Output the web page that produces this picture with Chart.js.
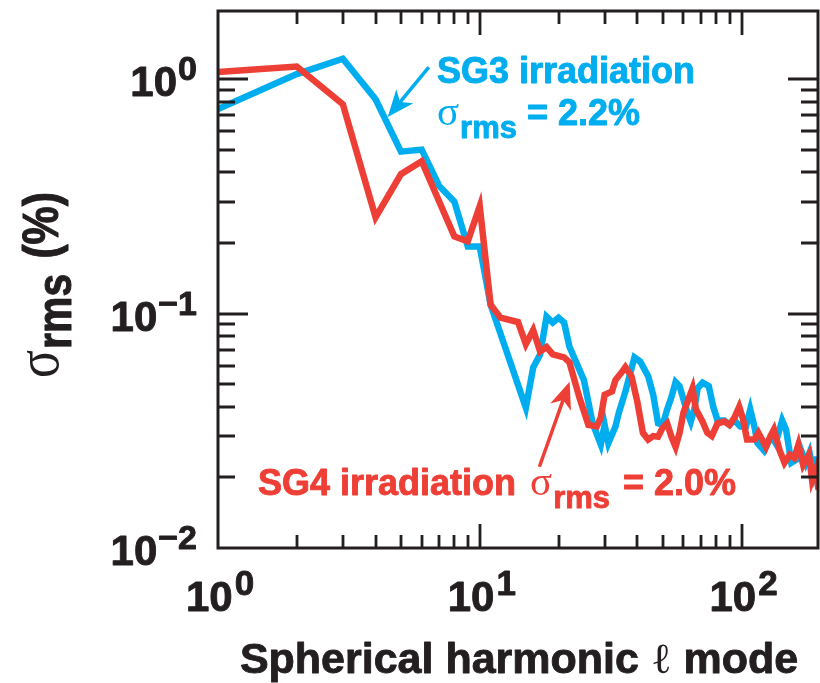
<!DOCTYPE html>
<html><head><meta charset="utf-8">
<script src="https://cdn.jsdelivr.net/npm/chart.js@4.4.1/dist/chart.umd.min.js"></script>
<style>html,body{margin:0;padding:0;background:#fff;}canvas{display:block;}</style>
</head><body>
<canvas id="c" width="820" height="683"></canvas>
<script>
// ---- data ----
const sg3L = [1,2,3,4,5,6,7,8,9,10,11,15,16,17,18,19,20,21,22,25,27,29,30,31,33,34,36,39,41,44,46,48,50,52,54,56,58,60,62,64,66,68,71,75,78,81,86,90,94,99,104,108,112,115,122,130,135,143,148,155,162,167,176,182,189,195];
const sg3V = [0.744,1.05,1.22,0.82,0.49,0.50,0.35,0.30,0.193,0.193,0.109,0.0397,0.0588,0.0668,0.097,0.0915,0.096,0.0915,0.0723,0.052,0.034,0.0276,0.0335,0.028,0.033,0.0378,0.0464,0.065,0.0624,0.054,0.045,0.034,0.0335,0.039,0.044,0.051,0.049,0.043,0.038,0.0346,0.039,0.048,0.0507,0.049,0.040,0.035,0.035,0.0335,0.035,0.033,0.033,0.039,0.033,0.028,0.026,0.030,0.028,0.035,0.032,0.0231,0.0238,0.027,0.0231,0.0255,0.0209,0.0245];
const sg4L = [1,2,3,4,5,6,8,9,10,11,12,14,15,16,17,18,19,21,22,24,26,28,29,30,32,33,35,36,38,40,42,44,46,48,50,52,54,56,58,60,65,67,71,74,77,81,86,90,94,98,101,105,112,116,124,129,133,140,146,153,159,165,172,181,186,192,197];
const sg4V = [1.07,1.13,0.78,0.257,0.393,0.446,0.213,0.203,0.287,0.109,0.096,0.092,0.074,0.085,0.069,0.072,0.067,0.065,0.062,0.044,0.0335,0.033,0.036,0.045,0.0465,0.052,0.0565,0.059,0.054,0.042,0.031,0.029,0.030,0.0298,0.0326,0.034,0.0298,0.027,0.031,0.0378,0.048,0.039,0.0346,0.031,0.030,0.034,0.0346,0.0335,0.036,0.040,0.036,0.029,0.029,0.031,0.027,0.030,0.032,0.026,0.0231,0.025,0.0242,0.0276,0.0226,0.025,0.0195,0.0215,0.0177];
const xMajorTicks = [1, 10, 100];
const xTickExp = ['0', '1', '2'];
const yMajorTicks = [1, 0.1, 0.01];
const yTickExp = ['0', '\u22121', '\u22122'];

// ---- styles ----
const BLUE = '#00AEEF', RED = '#EE3F36', INK = '#231F20';
const SANS = '"Liberation Sans", Arial, Helvetica, sans-serif';
const SERIF = '"Liberation Serif", "Times New Roman", serif';

function runsWidth(ctx, runs) {
  let w = 0;
  for (const r of runs) { ctx.font = r.font; w += ctx.measureText(r.text).width + (r.gap || 0); }
  return w;
}
function drawRuns(ctx, runs, x, y, align, color) {
  const w = runsWidth(ctx, runs);
  let cx = align === 'center' ? x - w / 2 : align === 'right' ? x - w : x;
  ctx.textAlign = 'left'; ctx.textBaseline = 'alphabetic'; ctx.lineJoin = 'round';
  for (const r of runs) {
    ctx.font = r.font;
    const c = r.color || color;
    ctx.fillStyle = c;
    ctx.fillText(r.text, cx, y + (r.dy || 0));
    if (r.font.indexOf('bold') === 0) {
      ctx.strokeStyle = c; ctx.lineWidth = 0.9;
      ctx.strokeText(r.text, cx, y + (r.dy || 0));
    }
    cx += ctx.measureText(r.text).width + (r.gap || 0);
  }
}
function arrow(ctx, x1, y1, x2, y2, color, lw, hl, hw) {
  const dx = x2 - x1, dy = y2 - y1, L = Math.hypot(dx, dy);
  const ux = dx / L, uy = dy / L, nx = -uy, ny = ux;
  ctx.strokeStyle = color; ctx.fillStyle = color; ctx.lineWidth = lw; ctx.lineCap = 'butt';
  ctx.beginPath(); ctx.moveTo(x1, y1); ctx.lineTo(x2 - ux * hl * 0.6, y2 - uy * hl * 0.6); ctx.stroke();
  ctx.beginPath();
  ctx.moveTo(x2, y2);
  ctx.lineTo(x2 - ux * hl + nx * hw, y2 - uy * hl + ny * hw);
  ctx.lineTo(x2 - ux * hl * 0.72, y2 - uy * hl * 0.72);
  ctx.lineTo(x2 - ux * hl - nx * hw, y2 - uy * hl - ny * hw);
  ctx.closePath(); ctx.fill();
}

const decor = {
  id: 'decor',
  afterDraw(chart) {
    const { ctx, chartArea: a, scales: { x, y } } = chart;
    ctx.save();
    // frame
    ctx.strokeStyle = INK; ctx.lineWidth = 3;
    ctx.strokeRect(a.left, a.top, a.right - a.left, a.bottom - a.top);
    // ticks (inward, mirrored)
    ctx.lineWidth = 2.8;
    ctx.beginPath();
    for (const d of [1, 10, 100]) {
      for (let m = 1; m <= 9; m++) {
        const v = m * d;
        if (v <= x.min || v >= x.max) continue;
        const p = Math.round(x.getPixelForValue(v));
        const len = m === 1 ? 24 : 13;
        ctx.moveTo(p, a.bottom); ctx.lineTo(p, a.bottom - len);
        ctx.moveTo(p, a.top); ctx.lineTo(p, a.top + len);
      }
    }
    for (const d of [0.01, 0.1, 1]) {
      for (let m = 1; m <= 9; m++) {
        const v = m * d;
        if (v <= y.min || v >= y.max) continue;
        const p = Math.round(y.getPixelForValue(v));
        const len = m === 1 ? 30 : 17;
        ctx.moveTo(a.left, p); ctx.lineTo(a.left + len, p);
        ctx.moveTo(a.right, p); ctx.lineTo(a.right - len, p);
      }
    }
    ctx.stroke();

    // tick labels
    xMajorTicks.forEach((v, i) => {
      const p = x.getPixelForValue(v);
      drawRuns(ctx, [
        { text: '10', font: 'bold 42px ' + SANS, gap: 2 },
        { text: xTickExp[i], font: 'bold 35px ' + SANS, dy: -16 }
      ], p + 2, 611, 'center', INK);
    });
    yMajorTicks.forEach((v, i) => {
      const p = y.getPixelForValue(v);
      drawRuns(ctx, [
        { text: '10', font: 'bold 42px ' + SANS, gap: 1 },
        { text: yTickExp[i], font: 'bold 34px ' + SANS, dy: -16 }
      ], 197, p + 17, 'right', INK);
    });

    // axis titles
    drawRuns(ctx, [
      { text: 'Spherical harmonic ', font: 'bold 43px ' + SANS },
      { text: '\u2113', font: '43px ' + SERIF },
      { text: ' mode', font: 'bold 43px ' + SANS }
    ], 519, 673, 'center', INK);

    ctx.save();
    ctx.translate(58, 285);
    ctx.rotate(-Math.PI / 2);
    ctx.scale(1, 1.18);
    drawRuns(ctx, [
      { text: '\u03C3', font: '52px ' + SERIF, gap: 1 },
      { text: 'rms', font: 'bold 41px ' + SANS, dy: 11, gap: 3 },
      { text: ' (%)', font: 'bold 43px ' + SANS }
    ], 0, 0, 'center', INK);
    ctx.restore();

    // annotations
    drawRuns(ctx, [{ text: 'SG3 irradiation', font: 'bold 36px ' + SANS }], 437, 83, 'left', BLUE);
    drawRuns(ctx, [
      { text: '\u03C3', font: '41px ' + SERIF, gap: 1 },
      { text: 'rms', font: 'bold 31px ' + SANS, dy: 13 },
      { text: ' = 2.2%', font: 'bold 36px ' + SANS }
    ], 437, 125, 'left', BLUE);
    drawRuns(ctx, [
      { text: 'SG4 irradiation ', font: 'bold 36px ' + SANS, gap: 4 },
      { text: '\u03C3', font: '41px ' + SERIF, gap: 1 },
      { text: 'rms', font: 'bold 31px ' + SANS, dy: 13, gap: 3 },
      { text: ' = 2.0%', font: 'bold 36px ' + SANS }
    ], 258, 495, 'left', RED);

    arrow(ctx, x.getPixelForValue(6.39), y.getPixelForValue(1.125),
               x.getPixelForValue(4.45), y.getPixelForValue(0.688), BLUE, 3.5, 27, 11);
    arrow(ctx, x.getPixelForValue(16.9), y.getPixelForValue(0.0222),
               x.getPixelForValue(22.05), y.getPixelForValue(0.0512), RED, 3.5, 27, 11);
    ctx.restore();
  }
};

new Chart(document.getElementById('c').getContext('2d'), {
  type: 'line',
  data: {
    datasets: [
      { label: 'SG4 irradiation', data: sg4L.map((l, i) => ({ x: l, y: sg4V[i] })),
        borderColor: RED, borderWidth: 6.5, pointRadius: 0, tension: 0, fill: false, order: 0 },
      { label: 'SG3 irradiation', data: sg3L.map((l, i) => ({ x: l, y: sg3V[i] })),
        borderColor: BLUE, borderWidth: 6.5, pointRadius: 0, tension: 0, fill: false, order: 1 }
    ]
  },
  options: {
    responsive: false, animation: false, devicePixelRatio: 1,
    layout: { padding: { left: 218, top: 11, right: 2, bottom: 135 } },
    plugins: { legend: { display: false }, tooltip: { enabled: false } },
    elements: { line: { borderJoinStyle: 'miter', borderCapStyle: 'butt' } },
    scales: {
      x: { type: 'logarithmic', min: 1, max: 196, display: false },
      y: { type: 'logarithmic', min: 0.01, max: 1.95, display: false }
    }
  },
  plugins: [decor]
});
</script>
</body></html>
